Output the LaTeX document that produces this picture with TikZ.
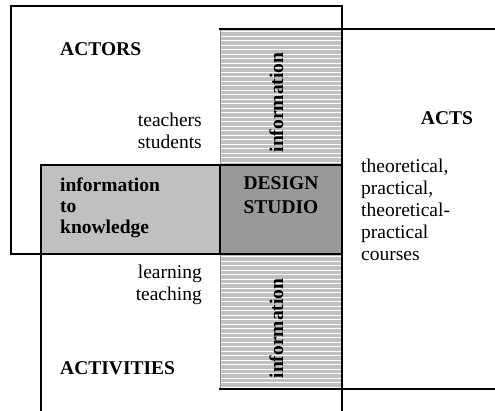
\documentclass[tikz,border=0pt]{standalone}
\usepackage{fontspec}
\setmainfont{Liberation Serif}
\definecolor{lightfill}{HTML}{C0C0C0}
\definecolor{darkfill}{HTML}{999999}
\definecolor{edgegray}{HTML}{8A8A8A}
\begin{document}
\begin{tikzpicture}[x=1pt,y=-1pt,
  frame/.style={line width=2pt, line cap=rect},
  txt/.style={inner sep=0pt, font=\fontsize{19.5}{22}\selectfont},
  headtxt/.style={inner sep=0pt, font=\fontsize{19.5}{22}\selectfont\bfseries},
  stripline/.style={white, line width=0.9pt},
]
\useasboundingbox (0,0) rectangle (495,411);
\clip (0,0) rectangle (495,411);

% corner points of the overlapping fields
\coordinate (actorsNW) at (11,6);
\coordinate (actorsSE) at (342,254);
\coordinate (coreNW) at (41,165);
\coordinate (studioNW) at (220,165);
\coordinate (studioSE) at (342,254);
\coordinate (topStripNW) at (220,29);
\coordinate (botStripSE) at (342,389);

% information strips: grey with white ruling
\fill[lightfill] (topStripNW) rectangle (studioNW -| studioSE);
\fill[lightfill] (220,254) rectangle (botStripSE);
\foreach \yy in {31.5,36,...,163} {
  \draw[stripline] (220.8,\yy) -- (341,\yy);
}
\foreach \yy in {256.5,261,...,388} {
  \draw[stripline] (220.8,\yy) -- (341,\yy);
}
\draw[edgegray, line width=0.8pt] (220,29) -- (220,165);
\draw[edgegray, line width=0.8pt] (220,254) -- (220,389);

% shared row: information to knowledge, and the design studio
\fill[lightfill] (coreNW) rectangle (220,254);
\fill[darkfill] (studioNW) rectangle (studioSE);

% ACTORS field
\draw[frame] (actorsNW) rectangle (actorsSE);
% ACTIVITIES field (runs off the bottom)
\draw[frame] (41,420) -- (coreNW) -- (342,165) -- (342,420);
% ACTS field (runs off the right)
\draw[frame] (505,29) -- (topStripNW);
\draw[frame] (505,389) -- (220,389);
% row dividers
\draw[frame] (coreNW) rectangle (studioSE);
\draw[frame] (studioNW) -- (220,254);

% labels
\node[headtxt, anchor=base west] (actors) at (60,56) {ACTORS};
\node[txt, anchor=base east] (teachers) at (202,127) {teachers};
\node[txt, anchor=base east] (students) at (202,149) {students};

\node[headtxt, anchor=base, rotate=90] (infoTop) at (283,102.5) {information};
\node[headtxt, anchor=base, rotate=90] (infoBot) at (283,328.5) {information};

\node[headtxt, anchor=base] (acts) at (447,125) {ACTS};
\node[txt, anchor=base west] (c1) at (361,173) {theoretical,};
\node[txt, anchor=base west] (c2) at (361,195) {practical,};
\node[txt, anchor=base west] (c3) at (361,217) {theoretical-};
\node[txt, anchor=base west] (c4) at (361,239) {practical};
\node[txt, anchor=base west] (c5) at (361,261) {courses};

\node[headtxt, anchor=base west] (k1) at (60,192) {information};
\node[headtxt, anchor=base west] (k2) at (60,213) {to};
\node[headtxt, anchor=base west] (k3) at (60,234) {knowledge};

\node[headtxt, anchor=base] (design) at (281,190) {DESIGN};
\node[headtxt, anchor=base] (studio) at (281,214) {STUDIO};

\node[txt, anchor=base east] (learning) at (202,279) {learning};
\node[txt, anchor=base east] (teaching) at (202,301) {teaching};
\node[headtxt, anchor=base west] (activities) at (60,374) {ACTIVITIES};
\end{tikzpicture}
\end{document}
